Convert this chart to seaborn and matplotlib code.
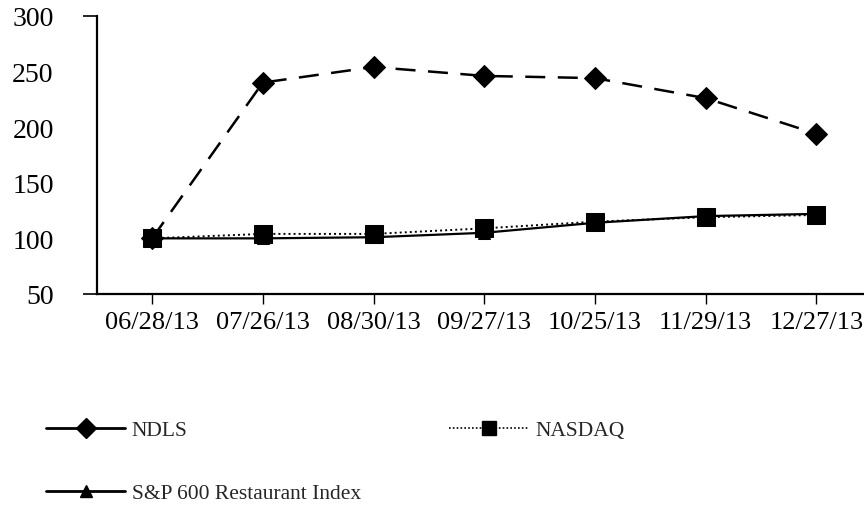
import numpy as np
import pandas as pd
import matplotlib
matplotlib.use("Agg")
import matplotlib.pyplot as plt
from matplotlib.lines import Line2D
import seaborn as sns

# data
dates = ["06/28/13", "07/26/13", "08/30/13", "09/27/13", "10/25/13", "11/29/13", "12/27/13"]
ndls = [100, 240, 254, 246, 244, 226, 194]
nasdaq = [100, 104, 104, 109, 115, 119, 121]
sp600 = [100, 100, 101, 105, 114, 120, 122]
yticks = [50, 100, 150, 200, 250, 300]

sns.set_theme(style="white")
plt.rcParams["font.family"] = ["Liberation Serif", "DejaVu Serif"]

pos = np.arange(len(dates))
df = pd.DataFrame({"pos": pos, "NDLS": ndls, "NASDAQ": nasdaq, "SP": sp600})

fig = plt.figure(figsize=(8.64, 5.10), dpi=100)
ax = fig.add_axes([0.112, 0.4216, 0.888, 0.5454])

sns.lineplot(data=df, x="pos", y="SP", ax=ax, color="black", linewidth=1.6,
             marker="^", markersize=9, markeredgecolor="black")
sns.lineplot(data=df, x="pos", y="NASDAQ", ax=ax, color="black", linewidth=1.4,
             linestyle=(0, (1, 1.6)), marker="s", markersize=13, markeredgecolor="black")
sns.lineplot(data=df, x="pos", y="NDLS", ax=ax, color="black", linewidth=1.8,
             marker="D", markersize=11, markeredgecolor="black")
ax.lines[-1].set_dashes((8, 5))

ax.set_xlim(-0.5, 6.43)
ax.set_ylim(50, 300)
ax.set_xticks(pos)
ax.set_xticklabels(dates)
ax.set_yticks(yticks)
ax.set_yticklabels([str(v) for v in yticks])
ax.set_xlabel("")
ax.set_ylabel("")

for s in ["top", "right"]:
    ax.spines[s].set_visible(False)
for s in ["left", "bottom"]:
    ax.spines[s].set_color("black")
    ax.spines[s].set_linewidth(1.6)

ax.tick_params(axis="x", bottom=True, length=7, width=1.0, color="black",
               labelsize=19, pad=5, labelcolor="black")
ax.tick_params(axis="y", left=True, length=10, width=1.2, color="black",
               labelsize=20, pad=21, labelcolor="black")
# only the end ticks show on the y axis
for t in ax.yaxis.get_major_ticks()[1:-1]:
    t.tick1line.set_visible(False)

handles = [
    Line2D([], [], color="black", lw=2.0, marker="D", markersize=10),
    Line2D([], [], color="black", lw=2.0, marker="^", markersize=8),
    Line2D([], [], color="black", lw=1.2, linestyle=(0, (1, 1.3)), marker="s", markersize=10),
]
labels = ["NDLS", "S&P 600 Restaurant Index", "NASDAQ"]
fig.legend(handles, labels, ncol=2, loc="upper left", bbox_to_anchor=(0.053, 0.174),
           frameon=False, fontsize=15.5, handlelength=3.7, handletextpad=0.3,
           columnspacing=4.1, labelspacing=2.0, borderaxespad=0, borderpad=0)

fig.savefig("out.png", dpi=100)
